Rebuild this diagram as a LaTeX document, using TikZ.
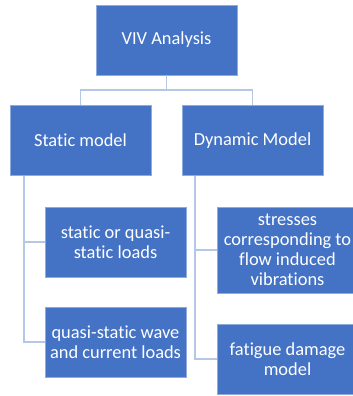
\documentclass[tikz,border=0pt]{standalone}
\usepackage{fontspec}
\setmainfont[Ligatures=NoCommon]{Carlito}
\definecolor{boxblue}{HTML}{4472C4}
\definecolor{boxedge}{HTML}{8FAADC}
\definecolor{linkblue}{HTML}{B4C7E7}
\begin{document}
\begin{tikzpicture}[x=1pt,y=-1pt,
  box/.style={draw=boxedge,line width=0.6pt,fill=boxblue,text=white,align=center,
    minimum width=141pt,minimum height=70pt,inner sep=1pt,
    font=\fontsize{18.4}{20}\selectfont},
  link/.style={draw=linkblue,line width=1.8pt}]
\useasboundingbox (0,0) rectangle (353,396);
\clip (0,0) rectangle (353,396);
\node[box] (viv) at (166.5,40) {VIV Analysis};
\node[box] (stat) at (80.5,140.5) {Static model};
\node[box] (dyn) at (252.5,140.5) {Dynamic Model};
\node[box] (s1) at (115.5,242) {static or quasi-\\static loads};
\node[box,minimum height=86pt] (s2) at (287.5,250) {stresses\\corresponding to\\flow induced\\vibrations};
\node[box] (q1) at (115.5,342) {quasi-static wave\\and current loads};
\node[box] (f1) at (287.5,359) {fatigue damage\\model};
\coordinate (mid) at (166.5,90);
\draw[link] (viv.south) -- (mid);
\draw[link] (stat.north) |- (mid) -| (dyn.north);
\draw[link] ([xshift=14pt]stat.south west) |- (s1.west);
\draw[link] ([xshift=14pt]stat.south west) |- (q1.west);
\draw[link] ([xshift=13pt]dyn.south west) |- (s2.west);
\draw[link] ([xshift=13pt]dyn.south west) |- (f1.west);
\end{tikzpicture}
\end{document}
